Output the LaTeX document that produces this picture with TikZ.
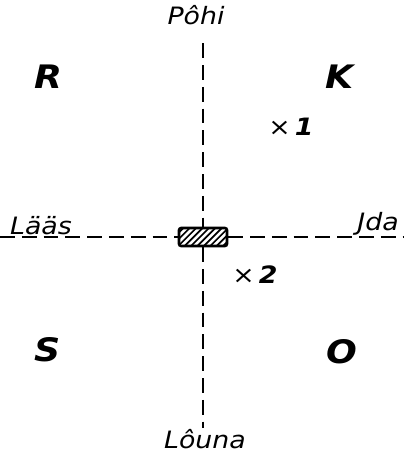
\documentclass[tikz,border=0pt]{standalone}
\usepackage{fontspec}
\setmainfont{DejaVu Sans}
\newfontfamily\widefont[FakeStretch=1.12]{DejaVu Sans}
\usetikzlibrary{positioning, patterns}

\begin{document}
\begin{tikzpicture}[x=0.025cm, y=-0.025cm,
    axis/.style={line width=1.6pt, dash pattern=on 10.5pt off 5pt},
    dir/.style={font=\widefont\fontsize{17}{19}\selectfont\itshape, inner sep=1pt},
    zone/.style={font=\widefont\fontsize{23}{25}\selectfont\bfseries\itshape},
    spot/.style={font=\widefont\fontsize{17}{19}\selectfont\bfseries\itshape},
    house/.style={draw, line width=1.8pt, fill=white, rounded corners=1.5pt,
      minimum width=1.2cm, minimum height=0.45cm,
      path picture={
        \foreach \i in {-6,...,6}
          \draw[line width=1.2pt] ([xshift=\i*0.16cm-0.3cm]path picture bounding box.south)
            -- ++(0.6cm,0.6cm);
      }}
  ]
  \useasboundingbox (0,0) rectangle (404,453);

  % directions
  \node[dir] (pohi)  at (196,15)  {Pôhi};
  \node[dir] (louna) at (205,439) {Lôuna};
  \node[dir, anchor=south] (laas) at (41,237)  {Lääs};
  \node[dir, anchor=south] (ida)  at (378,237) {Jda};
  \coordinate (w) at (0,237);
  \coordinate (e) at (404,237);

  % house at the crossing
  \node[house] (maja) at (203,237) {};
  \draw[axis, shorten <=12] (maja.north |- pohi.south) -- (maja.north);
  \draw[axis] (maja.south) -- (maja.south |- louna.north);
  \draw[axis] (w) -- (maja.west);
  \draw[axis] (maja.east) -- (e);

  % quarters
  \node[zone] (r) at (48,77)  {R};
  \node[zone] (k) at (340,77) {K};
  \node[zone] (s) at (48,350) {S};
  \node[zone] (o) at (342,352) {O};

  % points
  \node[spot] (p1) at (291,127) {\mdseries×\,\bfseries 1};
  \node[spot] (p2) at (255,275) {\mdseries×\,\bfseries 2};
\end{tikzpicture}
\end{document}
